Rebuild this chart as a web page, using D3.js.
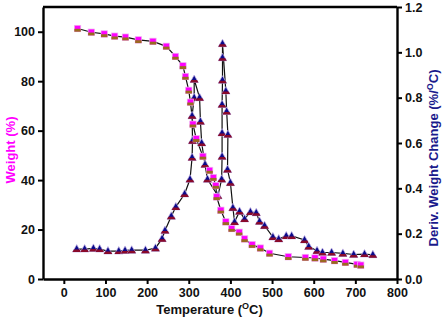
<!DOCTYPE html>
<html>
<head>
<meta charset="utf-8">
<script src="https://cdn.jsdelivr.net/npm/d3@7"></script>
<style>
	body { margin: 0; background: #fff; }
	text { font-family: "Liberation Sans", Arial, sans-serif; font-weight: bold; }
</style>
</head>
<body>
<div id="chart"></div>
<script>
// weight curve (left axis)
var weightTemp = [33, 66, 97, 122, 148, 179, 214, 246, 268, 286, 292, 300, 304, 310, 318, 334, 350, 359, 365, 367, 377, 389, 403, 421, 434, 452, 472, 494, 539, 580, 603, 623, 650, 676, 704, 713];
var weight = [101.3, 99.8, 99.1, 98.2, 97.8, 96.7, 96.1, 94.1, 90.0, 86.2, 81.9, 76.3, 71.5, 62.6, 56.7, 49.6, 43.9, 41.0, 37.8, 33.2, 27.8, 23.1, 20.4, 18.9, 16.2, 13.9, 12.5, 10.4, 9.0, 8.7, 8.5, 8.0, 7.4, 6.7, 5.9, 5.6];

// derivative curve (right axis)
var derivTemp = [31, 50, 71, 86, 106, 132, 147, 163, 196, 220, 236, 243, 258, 269, 290, 303, 308, 309, 308, 313, 313, 326, 328, 331, 339, 345, 370, 379, 380, 380, 380, 381, 381, 381, 389, 391, 394, 393, 400, 406, 410, 422, 434, 448, 462, 470, 482, 502, 516, 534, 547, 578, 588, 608, 621, 643, 670, 696, 722, 742];
var deriv = [0.132, 0.132, 0.135, 0.132, 0.123, 0.123, 0.126, 0.127, 0.127, 0.136, 0.178, 0.214, 0.277, 0.318, 0.375, 0.44, 0.536, 0.61, 0.72, 0.80, 0.88, 0.80, 0.695, 0.60, 0.505, 0.44, 0.367, 0.44, 0.54, 0.644, 0.77, 0.877, 0.976, 1.038, 0.829, 0.739, 0.637, 0.483, 0.425, 0.314, 0.252, 0.298, 0.265, 0.296, 0.292, 0.254, 0.235, 0.185, 0.176, 0.19, 0.19, 0.172, 0.143, 0.125, 0.117, 0.117, 0.113, 0.108, 0.110, 0.107];

var xTicks = [0, 100, 200, 300, 400, 500, 600, 700, 800];
var leftTicks = [0, 20, 40, 60, 80, 100];
var rightTicks = [0, 0.2, 0.4, 0.6, 0.8, 1.0, 1.2];

var W = 445, H = 320;
var m = {left: 43, top: 7, right: 48, bottom: 41};
var w = W - m.left - m.right, h = H - m.top - m.bottom;

var svg = d3.select("#chart").append("svg")
			.attr("width", W)
			.attr("height", H);

var g = svg.append("g")
		   .attr("transform", "translate(" + m.left + "," + m.top + ")");

var x = d3.scaleLinear().domain([-50, 800]).range([0, w]);
var yL = d3.scaleLinear().domain([0, 110]).range([h, 0]);
var yR = d3.scaleLinear().domain([0, 1.2]).range([h, 0]);

function styleAxis(sel){
	sel.selectAll("path").attr("stroke", "#000").attr("stroke-width", 2.4);
	sel.selectAll("line").attr("stroke", "#000").attr("stroke-width", 2);
	sel.selectAll("text").attr("font-size", 12.5).attr("fill", "#111");
}

// top frame line
g.append("line")
 .attr("x1", 0).attr("x2", w)
 .attr("y1", 0).attr("y2", 0)
 .attr("stroke", "#000")
 .attr("stroke-width", 2.4);

var xAxis = g.append("g")
			 .attr("transform", "translate(0," + h + ")")
			 .call(d3.axisBottom(x).tickValues(xTicks).tickSize(5).tickSizeOuter(0).tickPadding(4));
styleAxis(xAxis);

var lAxis = g.append("g")
			 .call(d3.axisLeft(yL).tickValues(leftTicks).tickSize(5).tickSizeOuter(0).tickPadding(3));
styleAxis(lAxis);

var rAxis = g.append("g")
			 .attr("transform", "translate(" + w + ",0)")
			 .call(d3.axisRight(yR).tickValues(rightTicks).tickSize(5).tickSizeOuter(0).tickPadding(3)
			 		.tickFormat(d3.format(".1f")));
styleAxis(rAxis);

// lines
var derivData = derivTemp.map(function(t, i){ return [t, deriv[i]]; });
var weightData = weightTemp.map(function(t, i){ return [t, weight[i]]; });

g.append("path")
 .datum(derivData)
 .attr("fill", "none")
 .attr("stroke", "#111")
 .attr("stroke-width", 1.2)
 .attr("d", d3.line().x(function(d){ return x(d[0]); }).y(function(d){ return yR(d[1]); }));

g.append("path")
 .datum(weightData)
 .attr("fill", "none")
 .attr("stroke", "#111")
 .attr("stroke-width", 1.2)
 .attr("d", d3.line().x(function(d){ return x(d[0]); }).y(function(d){ return yL(d[1]); }));

// triangle markers
var tri = g.selectAll(".tri")
		   .data(derivData)
		   .enter()
		   .append("g")
		   .attr("class", "tri")
		   .attr("transform", function(d){ return "translate(" + x(d[0]) + "," + yR(d[1]) + ")"; });

tri.append("path")
   .attr("d", "M0,-4.5L4.2,3L-4.2,3Z")
   .attr("fill", "#0a0a8a")
   .attr("stroke", "#c8b8e8")
   .attr("stroke-width", 0.7);

tri.append("path")
   .attr("d", "M-2.8,0.5L2.8,0.5L4.2,3L-4.2,3Z")
   .attr("fill", "#8a0a2a");

// square markers
var sq = g.selectAll(".sq")
		  .data(weightData)
		  .enter()
		  .append("g")
		  .attr("class", "sq")
		  .attr("transform", function(d){ return "translate(" + x(d[0]) + "," + yL(d[1]) + ")"; });

sq.append("rect")
  .attr("x", -3.2).attr("y", -3.2)
  .attr("width", 6.4).attr("height", 6.4)
  .attr("fill", "#ff00ff")
  .attr("stroke", "#f0b0f0")
  .attr("stroke-width", 0.7);

sq.append("rect")
  .attr("x", -3.2).attr("y", 0.3)
  .attr("width", 6.4).attr("height", 2.9)
  .attr("fill", "#9a6a20");

// axis titles
svg.append("text")
   .attr("transform", "translate(15," + (m.top + h / 2 + 7) + ") rotate(-90)")
   .attr("text-anchor", "middle")
   .attr("font-size", 13)
   .attr("fill", "#ff00ff")
   .text("Weight (%)");

var rt = svg.append("text")
			.attr("transform", "translate(438," + (m.top + h / 2 + 15) + ") rotate(-90)")
			.attr("text-anchor", "middle")
			.attr("font-size", 13)
			.attr("fill", "#1a1a8c");
rt.append("tspan").text("Deriv. Weight Change (%/");
rt.append("tspan").attr("font-size", 9).attr("dy", -5).text("O");
rt.append("tspan").attr("dy", 5).text("C)");

var xt = svg.append("text")
			.attr("x", m.left + x(350))
			.attr("y", 314)
			.attr("text-anchor", "middle")
			.attr("font-size", 13)
			.attr("fill", "#111");
xt.append("tspan").text("Temperature (");
xt.append("tspan").attr("font-size", 9).attr("dy", -5).text("O");
xt.append("tspan").attr("dy", 5).text("C)");
</script>
</body>
</html>
